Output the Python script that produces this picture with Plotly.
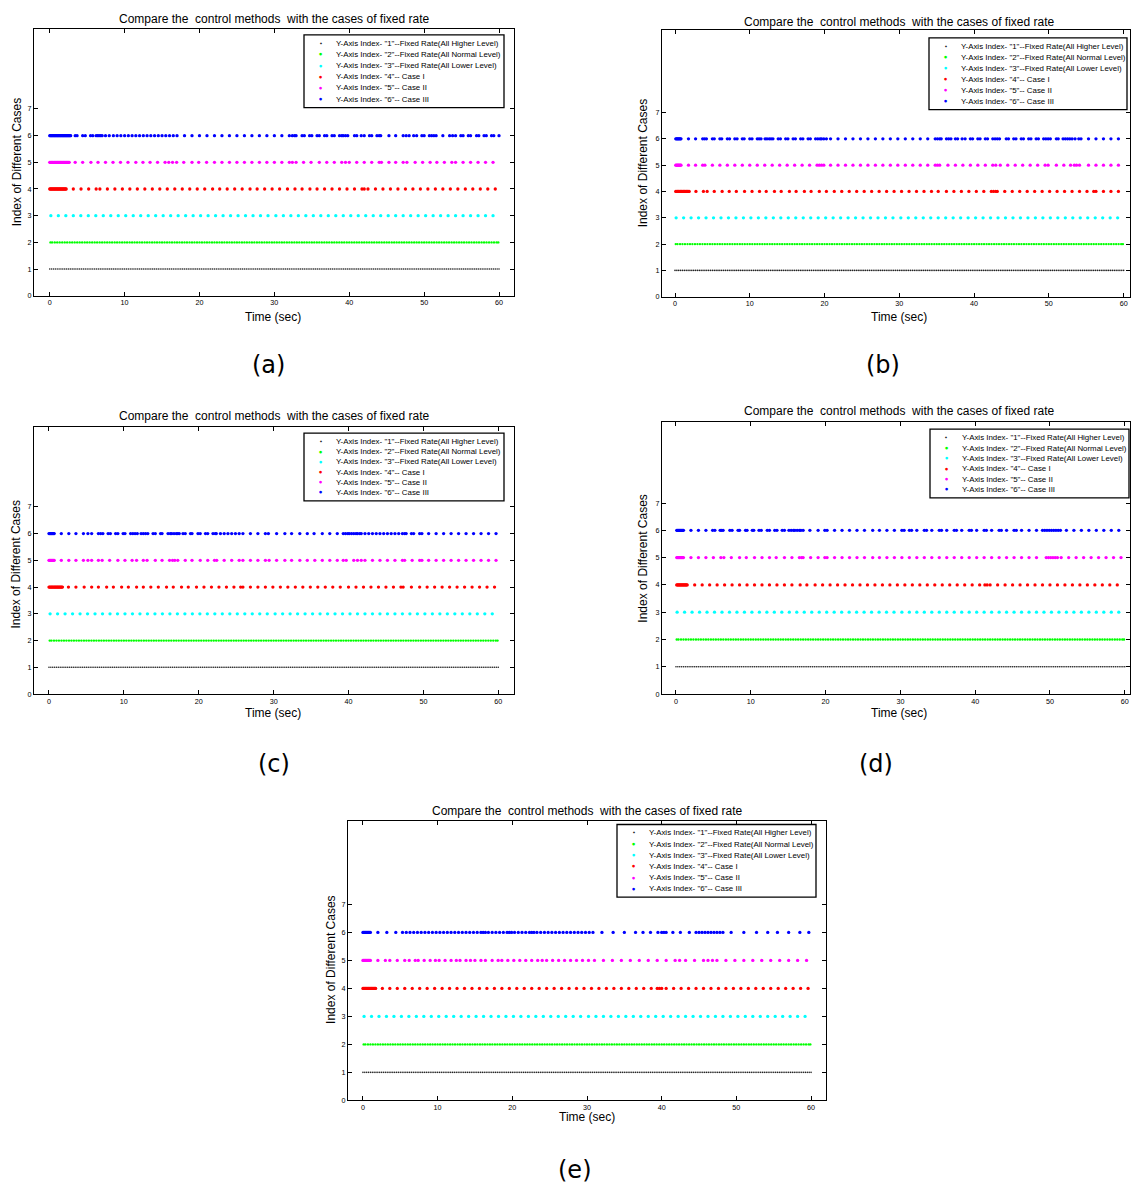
import plotly.graph_objects as go

W, H = 1132, 1188

# ---------------- text ----------------
TITLE_TEXT = "Compare the  control methods  with the cases of fixed rate"
X_LABEL = "Time (sec)"
Y_LABEL = "Index of Different Cases"
X_TICKS = [0, 10, 20, 30, 40, 50, 60]
Y_TICKS = [0, 1, 2, 3, 4, 5, 6, 7]
SERIES_INDEX = [1, 2, 3, 4, 5, 6]
LEGEND_LABELS = [
    'Y-Axis Index- "1"--Fixed Rate(All Higher Level)',
    'Y-Axis Index- "2"--Fixed Rate(All Normal Level)',
    'Y-Axis Index- "3"--Fixed Rate(All Lower Level)',
    'Y-Axis Index- "4"-- Case I',
    'Y-Axis Index- "5"-- Case II',
    'Y-Axis Index- "6"-- Case III',
]
PANEL_LABELS = ["(a)", "(b)", "(c)", "(d)", "(e)"]

# ---------------- data (event times in seconds) ----------------
fixed_higher = [
    0, 0.25, 0.5, 0.75, 1, 1.25, 1.5, 1.75, 2, 2.25, 2.5, 2.75, 3, 3.25, 3.5, 3.75, 4, 4.25, 4.5, 4.75,
    5, 5.25, 5.5, 5.75, 6, 6.25, 6.5, 6.75, 7, 7.25, 7.5, 7.75, 8, 8.25, 8.5, 8.75, 9, 9.25, 9.5, 9.75,
    10, 10.25, 10.5, 10.75, 11, 11.25, 11.5, 11.75, 12, 12.25, 12.5, 12.75, 13, 13.25, 13.5, 13.75, 14, 14.25, 14.5, 14.75,
    15, 15.25, 15.5, 15.75, 16, 16.25, 16.5, 16.75, 17, 17.25, 17.5, 17.75, 18, 18.25, 18.5, 18.75, 19, 19.25, 19.5, 19.75,
    20, 20.25, 20.5, 20.75, 21, 21.25, 21.5, 21.75, 22, 22.25, 22.5, 22.75, 23, 23.25, 23.5, 23.75, 24, 24.25, 24.5, 24.75,
    25, 25.25, 25.5, 25.75, 26, 26.25, 26.5, 26.75, 27, 27.25, 27.5, 27.75, 28, 28.25, 28.5, 28.75, 29, 29.25, 29.5, 29.75,
    30, 30.25, 30.5, 30.75, 31, 31.25, 31.5, 31.75, 32, 32.25, 32.5, 32.75, 33, 33.25, 33.5, 33.75, 34, 34.25, 34.5, 34.75,
    35, 35.25, 35.5, 35.75, 36, 36.25, 36.5, 36.75, 37, 37.25, 37.5, 37.75, 38, 38.25, 38.5, 38.75, 39, 39.25, 39.5, 39.75,
    40, 40.25, 40.5, 40.75, 41, 41.25, 41.5, 41.75, 42, 42.25, 42.5, 42.75, 43, 43.25, 43.5, 43.75, 44, 44.25, 44.5, 44.75,
    45, 45.25, 45.5, 45.75, 46, 46.25, 46.5, 46.75, 47, 47.25, 47.5, 47.75, 48, 48.25, 48.5, 48.75, 49, 49.25, 49.5, 49.75,
    50, 50.25, 50.5, 50.75, 51, 51.25, 51.5, 51.75, 52, 52.25, 52.5, 52.75, 53, 53.25, 53.5, 53.75, 54, 54.25, 54.5, 54.75,
    55, 55.25, 55.5, 55.75, 56, 56.25, 56.5, 56.75, 57, 57.25, 57.5, 57.75, 58, 58.25, 58.5, 58.75, 59, 59.25, 59.5, 59.75,
    60,
]
fixed_normal = [
    0.1, 0.33, 0.67, 1, 1.33, 1.67, 2, 2.33, 2.67, 3, 3.33, 3.67, 4, 4.33, 4.67,
    5, 5.33, 5.67, 6, 6.33, 6.67, 7, 7.33, 7.67, 8, 8.33, 8.67, 9, 9.33, 9.67,
    10, 10.33, 10.67, 11, 11.33, 11.67, 12, 12.33, 12.67, 13, 13.33, 13.67, 14, 14.33, 14.67,
    15, 15.33, 15.67, 16, 16.33, 16.67, 17, 17.33, 17.67, 18, 18.33, 18.67, 19, 19.33, 19.67,
    20, 20.33, 20.67, 21, 21.33, 21.67, 22, 22.33, 22.67, 23, 23.33, 23.67, 24, 24.33, 24.67,
    25, 25.33, 25.67, 26, 26.33, 26.67, 27, 27.33, 27.67, 28, 28.33, 28.67, 29, 29.33, 29.67,
    30, 30.33, 30.67, 31, 31.33, 31.67, 32, 32.33, 32.67, 33, 33.33, 33.67, 34, 34.33, 34.67,
    35, 35.33, 35.67, 36, 36.33, 36.67, 37, 37.33, 37.67, 38, 38.33, 38.67, 39, 39.33, 39.67,
    40, 40.33, 40.67, 41, 41.33, 41.67, 42, 42.33, 42.67, 43, 43.33, 43.67, 44, 44.33, 44.67,
    45, 45.33, 45.67, 46, 46.33, 46.67, 47, 47.33, 47.67, 48, 48.33, 48.67, 49, 49.33, 49.67,
    50, 50.33, 50.67, 51, 51.33, 51.67, 52, 52.33, 52.67, 53, 53.33, 53.67, 54, 54.33, 54.67,
    55, 55.33, 55.67, 56, 56.33, 56.67, 57, 57.33, 57.67, 58, 58.33, 58.67, 59, 59.33, 59.67,
    59.9,
]
fixed_lower = [
    0.15, 1.15, 2.15, 3.15, 4.15, 5.15, 6.15, 7.15, 8.15, 9.15, 10.15, 11.15, 12.15, 13.15, 14.15,
    15.15, 16.15, 17.15, 18.15, 19.15, 20.15, 21.15, 22.15, 23.15, 24.15, 25.15, 26.15, 27.15, 28.15, 29.15,
    30.2, 31.2, 32.2, 33.2, 34.2, 35.2, 36.2, 37.2, 38.2, 39.2, 40.2, 41.2, 42.2, 43.2, 44.2,
    45.2, 46.2, 47.2, 48.2, 49.2, 50.2, 51.2, 52.2, 53.2, 54.2, 55.2, 56.2, 57.2, 58.2, 59.2,
]

# ----- panel (a)
a_case1 = [
    0, 0.1, 0.2, 0.3, 0.4, 0.5, 0.6, 0.7, 0.8, 0.9, 1.0, 1.1, 1.2, 1.3, 1.4, 1.5, 1.6, 1.7, 1.8, 1.9, 2.0, 2.1, 2.2,
    3.15, 4.18, 5.2, 6.2, 6.7, 7.7, 8.7, 9.7, 10.7, 11.7, 12.7, 13.7, 14.7, 15.7, 16.7, 17.7, 18.7, 19.7, 20.7,
    21.75, 22.7, 23.7, 24.7, 25.7, 26.75, 27.7, 28.7, 29.7, 30.7, 31.75, 32.75, 33.7, 34.75, 35.7, 36.7, 37.7,
    38.7, 39.7, 40.7, 41.7, 42.0, 42.5, 43.5, 44.5, 45.5, 46.5, 47.5, 48.5, 49.5, 50.5, 51.5, 52.5, 53.5, 54.5,
    55.5, 56.5, 57.5, 58.5, 59.5,
]
a_case2 = [
    0, 0.1, 0.2, 0.3, 0.4, 0.5, 0.6, 0.7, 0.8, 0.9, 1.0, 1.1, 1.2, 1.3, 1.4, 1.5, 1.6, 1.7, 1.8, 1.9, 2.0, 2.1,
    2.2, 2.3, 2.4, 2.5, 2.6,
    3.4, 4.4, 5.5, 6.45, 7.45, 8.45, 9.45, 10.45, 11.5, 12.45, 13.4, 14.4, 15.4, 15.9, 16.4, 16.95, 17.9, 19.0,
    19.9, 20.95, 22.0, 23.0, 24.0, 25.0, 26.0, 27.0, 28.0, 29.0, 30.0, 31.0, 32.0, 32.4, 32.9, 33.9, 34.9, 36.0,
    37.0, 38.0, 39.0, 39.5, 40.0, 41.0, 42.0, 43.0, 44.0, 44.3, 45.3, 46.2, 47.2, 47.7, 48.8, 49.8, 50.8, 51.7,
    52.7, 53.7, 54.2, 55.2, 56.2, 57.2, 58.2, 59.2,
]
a_case3 = [
    0, 0.1, 0.2, 0.3, 0.4, 0.5, 0.6, 0.7, 0.8, 0.9, 1.0, 1.1, 1.2, 1.3, 1.4, 1.5, 1.6, 1.7, 1.8, 1.9, 2.0, 2.1,
    2.2, 2.3, 2.4, 2.5, 2.6, 2.7, 2.8,
    3.4, 3.65, 4.4, 4.75, 5.45, 5.75, 6.2, 6.4, 6.6, 6.8, 7.0, 7.45, 7.95, 8.5, 9.0, 9.5, 10.0, 10.5, 11.0,
    11.5, 12.0, 12.5, 13.0, 13.5, 14.0, 14.5, 15.0, 15.5, 16.0, 16.5, 17.0, 18.0, 19.0, 20.0, 21.0, 22.0,
    23.0, 24.0, 25.0, 26.0, 27.0, 28.0, 29.0, 30.0, 31.0, 32.0, 32.4, 32.7, 32.9, 33.7, 34.0, 34.7, 35.0,
    35.7, 36.0, 36.7, 37.0, 37.7, 38.0, 38.7, 39.0, 39.2, 39.5, 39.8, 40.7, 41.0, 41.6, 42.0, 42.7, 43.0,
    43.7, 44.0, 44.2, 45.3, 46.2, 47.2, 47.6, 48.0, 48.6, 49.0, 49.7, 50.0, 50.7, 51.0, 51.3, 51.6, 52.5,
    53.4, 53.8, 54.2, 54.9, 55.2, 55.9, 56.2, 57.0, 57.3, 58.0, 58.3, 59.0, 59.3, 60.0,
]

# ----- panel (b)
b_case1 = [
    0.1, 0.2, 0.3, 0.4, 0.5, 0.6, 0.7, 0.8, 0.9, 1.0, 1.1, 1.2, 1.3, 1.4, 1.5, 1.6, 1.7, 1.8, 1.9,
    2.8, 3.8, 4.3, 5.25, 6.3, 7.25, 8.2, 9.3, 10.3, 11.3, 12.2, 13.3, 14.2, 15.3, 16.2, 17.3, 18.2, 19.3,
    20.25, 21.3, 22.3, 23.3, 24.3, 25.3, 26.3, 27.3, 28.3, 29.3, 30.3, 31.3, 32.3, 33.3, 34.3, 35.2, 36.3,
    37.3, 38.3, 39.3, 40.3, 41.3, 42.3, 42.6, 42.9, 43.1, 44.1, 45.1, 46.1, 47.1, 48.1, 49.1, 50.1, 51.1,
    52.1, 53.1, 54.1, 55.1, 56.0, 56.3, 57.3, 58.3, 59.3,
]
b_case2 = [
    0.1, 0.2, 0.3, 0.4, 0.5, 0.6, 0.7, 0.8,
    1.8, 2.75, 3.7, 4.0, 5.0, 6.0, 7.0, 8.0, 9.0, 10.0, 11.0, 12.0, 13.0, 14.0, 15.0, 16.0, 17.0, 18.0,
    19.0, 19.3, 19.6, 19.9, 20.8, 21.8, 22.8, 23.8, 24.8, 25.8, 26.8, 27.8, 28.8, 29.8, 30.8, 31.8, 32.8,
    33.8, 34.8, 35.1, 35.4, 36.5, 37.5, 38.5, 39.5, 40.5, 41.5, 42.5, 42.9, 43.5, 44.5, 45.5, 46.5, 47.5,
    48.5, 49.5, 49.9, 51.0, 52.0, 52.9, 53.4, 53.7, 54.1, 55.3, 56.3, 57.3, 58.3, 59.3,
]
b_case3 = [
    0.1, 0.2, 0.3, 0.4, 0.5, 0.6, 0.7, 0.8,
    1.8, 2.75, 3.7, 3.95, 4.2, 5.0, 5.25, 6.0, 6.25, 7.0, 7.3, 8.0, 8.3, 9.0, 9.25, 10.0, 10.3, 11.0, 11.25,
    11.5, 12.05, 12.3, 12.6, 12.85, 13.1, 13.8, 14.1, 14.8, 15.1, 15.8, 16.1, 16.8, 17.1, 17.8, 18.1, 18.8,
    19.1, 19.4, 19.6, 19.9, 20.25, 20.8, 21.8, 22.8, 23.8, 24.8, 25.8, 26.8, 27.8, 28.8, 29.8, 30.8, 31.8,
    32.8, 33.8, 34.8, 35.1, 35.4, 35.6, 36.3, 36.6, 36.9, 37.5, 37.8, 38.4, 38.8, 39.5, 39.8, 40.5, 40.8,
    41.5, 41.8, 42.5, 42.8, 43.1, 43.4, 44.3, 44.6, 45.3, 45.6, 46.3, 46.6, 47.3, 47.6, 48.3, 48.6, 49.3,
    49.6, 49.9, 50.2, 51.0, 51.25, 51.9, 52.2, 52.5, 52.8, 53.1, 53.5, 54.0, 54.3, 55.3, 56.3, 57.3, 58.3, 59.3,
]

# ----- panel (c)
c_case1 = [
    0, 0.1, 0.2, 0.3, 0.4, 0.5, 0.6, 0.7, 0.8, 0.9, 1.0, 1.1, 1.2, 1.3, 1.4, 1.5, 1.6, 1.7, 1.8,
    2.6, 3.6, 4.7, 5.7, 6.6, 7.7, 8.6, 9.7, 10.6, 11.7, 12.6, 13.6, 14.6, 15.7, 16.6, 17.7, 18.6, 19.7,
    20.7, 21.7, 22.7, 23.7, 24.7, 25.6, 25.9, 26.9, 27.9, 28.9, 29.9, 30.9, 31.9, 32.9, 33.9, 34.9, 35.9,
    36.9, 37.9, 38.9, 40.0, 41.0, 42.0, 43.0, 44.0, 45.0, 46.0, 47.0, 47.3, 48.4, 49.5, 50.5, 51.5, 52.5,
    53.5, 54.5, 55.5, 56.5, 57.5, 58.5, 59.5,
]
c_case2 = [
    0, 0.1, 0.2, 0.3, 0.4, 0.5, 0.6, 0.7,
    1.65, 2.65, 3.6, 4.6, 5.2, 5.7, 6.6, 7.1, 8.1, 9.2, 10.15, 11.1, 11.7, 12.6, 13.1, 14.2, 15.1, 16.1,
    16.5, 16.8, 17.2, 18.2, 19.1, 20.2, 21.2, 22.1, 22.4, 23.4, 24.4, 25.4, 25.9, 26.9, 27.9, 28.9, 29.4,
    30.4, 31.5, 32.4, 33.5, 34.5, 35.5, 36.5, 37.5, 38.5, 39.3, 39.7, 40.7, 41.2, 41.7, 42.2, 43.2, 44.2,
    45.2, 46.2, 47.2, 47.5, 48.5, 49.5, 49.8, 50.7, 51.7, 52.7, 53.7, 54.7, 55.7, 56.7, 57.7, 58.7, 59.7,
]
c_case3 = [
    0, 0.1, 0.2, 0.3, 0.4, 0.5, 0.6, 0.7,
    1.65, 2.65, 3.6, 4.6, 5.2, 5.7, 6.6, 6.9, 7.2, 7.9, 8.2, 8.9, 9.2, 9.9, 10.15, 10.9, 11.2, 11.5, 11.8,
    12.3, 12.6, 12.9, 13.2, 13.9, 14.2, 14.9, 15.1, 15.9, 16.2, 16.4, 16.7, 17.0, 17.2, 17.4, 17.9, 18.2,
    18.9, 19.1, 19.9, 20.2, 20.9, 21.2, 21.9, 22.2, 22.35, 22.9, 23.4, 23.9, 24.4, 24.9, 25.4, 25.9, 26.9,
    27.9, 28.9, 29.3, 30.4, 31.5, 32.4, 33.5, 34.5, 35.4, 36.5, 37.5, 38.5, 39.3, 39.6, 39.9, 40.1, 40.4,
    40.7, 41.0, 41.2, 41.5, 41.7, 42.2, 42.7, 43.2, 43.7, 44.2, 44.7, 45.2, 45.7, 46.2, 46.7, 47.2, 47.5,
    47.7, 48.4, 48.7, 49.5, 49.8, 50.7, 51.7, 52.7, 53.7, 54.7, 55.7, 56.7, 57.7, 58.7, 59.7,
]

# ----- panel (d)
d_case1 = [
    0.1, 0.2, 0.3, 0.4, 0.5, 0.6, 0.7, 0.8, 0.9, 1.0, 1.1, 1.2, 1.3, 1.4, 1.5,
    2.5, 3.5, 4.5, 5.5, 6.5, 7.5, 8.5, 9.5, 10.5, 11.5, 12.5, 13.5, 14.5, 15.5, 16.6, 17.5, 18.6, 19.6,
    20.6, 21.6, 22.6, 23.6, 24.6, 25.6, 26.6, 27.6, 28.6, 29.6, 30.6, 31.6, 32.6, 33.6, 34.6, 35.6, 36.6,
    37.6, 38.6, 39.6, 40.6, 41.3, 41.6, 42.0, 43.0, 44.0, 45.0, 46.0, 47.0, 48.0, 49.0, 50.0, 51.0, 52.0,
    53.0, 54.0, 55.0, 56.0, 57.0, 58.0, 59.0,
]
d_case2 = [
    0.1, 0.2, 0.3, 0.4, 0.5, 0.6, 0.7, 0.8, 0.9, 1.0,
    2.0, 3.0, 4.0, 5.0, 6.0, 6.4, 7.4, 8.5, 9.4, 10.5, 11.5, 12.5, 13.4, 14.5, 15.5, 16.5, 16.8, 17.0,
    18.0, 19.0, 19.9, 20.2, 21.2, 22.2, 23.2, 24.2, 25.2, 26.3, 27.2, 28.2, 29.2, 30.2, 31.2, 32.2, 33.2,
    34.2, 35.2, 36.2, 37.2, 38.2, 39.2, 40.2, 41.2, 42.2, 43.2, 44.2, 45.2, 46.2, 47.2, 48.2, 49.5, 49.8,
    50.1, 50.4, 50.7, 51.0, 51.5, 52.5, 53.5, 54.5, 55.5, 56.5, 57.5, 58.5, 59.5,
]
d_case3 = [
    0.1, 0.2, 0.3, 0.4, 0.5, 0.6, 0.7, 0.8, 0.9, 1.0,
    2.0, 3.0, 4.0, 4.9, 5.2, 5.9, 6.1, 6.3, 7.2, 7.5, 8.3, 8.5, 9.3, 9.5, 10.2, 10.4, 11.1, 11.4, 12.2,
    12.5, 13.2, 13.5, 14.2, 14.5, 15.1, 15.4, 15.7, 15.9, 16.2, 16.5, 16.7, 17.0, 17.9, 19.0, 19.9, 20.2,
    21.2, 22.2, 23.2, 24.2, 25.2, 26.3, 27.2, 28.2, 29.2, 30.2, 30.5, 31.2, 31.5, 32.2, 33.2, 33.5, 34.2,
    35.2, 35.5, 36.2, 37.2, 37.5, 38.2, 39.2, 39.5, 40.2, 41.2, 41.5, 42.2, 43.2, 43.5, 44.2, 45.2, 45.5,
    46.2, 47.2, 48.2, 49.0, 49.3, 49.6, 49.9, 50.2, 50.5, 50.8, 51.1, 51.4, 52.2, 53.2, 54.2, 55.2, 56.2,
    57.2, 58.2, 59.2,
]

# ----- panel (e)
e_case1 = [
    0, 0.1, 0.2, 0.3, 0.4, 0.5, 0.6, 0.7, 0.8, 0.9, 1.0, 1.1, 1.2, 1.3, 1.4, 1.5, 1.6, 1.7,
    2.6, 3.6, 4.6, 5.6, 6.6, 7.6, 8.6, 9.6, 10.6, 11.6, 12.6, 13.6, 14.6, 15.6, 16.6, 17.6, 18.6, 19.6,
    20.6, 21.6, 22.6, 23.6, 24.6, 25.6, 26.6, 27.6, 28.6, 29.6, 30.6, 31.6, 32.6, 33.6, 34.6, 35.6, 36.6,
    37.6, 38.6, 39.4, 39.7, 40.0, 40.6, 41.6, 42.6, 43.6, 44.6, 45.6, 46.6, 47.6, 48.6, 49.6, 50.6, 51.6,
    52.6, 53.6, 54.6, 55.6, 56.6, 57.6, 58.6, 59.6,
]
e_case2 = [
    0, 0.1, 0.2, 0.3, 0.4, 0.5, 0.6, 0.7, 0.8, 0.9, 1.0,
    2.0, 3.0, 3.6, 4.6, 5.6, 6.2, 7.0, 7.4, 8.2, 9.0, 9.7, 10.2, 11.0, 11.8, 12.5, 13.0, 13.8, 14.4, 15.0,
    15.8, 16.4, 17.3, 18.1, 18.6, 19.4, 20.2, 21.0, 21.8, 22.6, 23.4, 24.0, 24.6, 25.4, 26.2, 27.0, 27.8,
    28.6, 29.4, 30.2, 31.0, 32.2, 33.4, 34.6, 35.8, 37.0, 38.2, 39.4, 40.6, 41.8, 42.4, 43.2, 44.4, 45.6,
    46.2, 46.8, 47.4, 48.6, 49.8, 51.0, 52.2, 53.4, 54.6, 55.8, 57.0, 58.2, 59.4,
]
e_case3 = [
    0, 0.1, 0.2, 0.3, 0.4, 0.5, 0.6, 0.7, 0.8, 0.9, 1.0,
    2.0, 3.2, 4.4, 5.3, 5.8, 6.3, 6.8, 7.3, 7.8, 8.3, 8.8, 9.3, 9.8, 10.3, 10.8, 11.3, 11.8, 12.3, 12.8,
    13.3, 13.8, 14.3, 14.8, 15.3, 15.8, 16.1, 16.4, 16.8, 17.3, 17.8, 18.3, 18.8, 19.3, 19.6, 19.9, 20.3,
    20.8, 21.3, 21.8, 22.3, 22.6, 22.9, 23.3, 23.8, 24.3, 24.8, 25.3, 25.8, 26.3, 26.8, 27.3, 27.8, 28.3,
    28.8, 29.3, 29.8, 30.3, 30.8, 32.0, 33.5, 35.0, 36.5, 37.5, 38.5, 39.5, 40.0, 40.3, 40.6, 41.5, 42.5,
    43.7, 44.6, 45.0, 45.4, 45.8, 46.2, 46.6, 47.0, 47.4, 47.8, 48.2, 49.3, 51.0, 52.7, 54.2, 55.5, 57.0,
    58.5, 59.7,
]

PANEL_SERIES = [
    [fixed_higher, fixed_normal, fixed_lower, a_case1, a_case2, a_case3],
    [fixed_higher, fixed_normal, fixed_lower, b_case1, b_case2, b_case3],
    [fixed_higher, fixed_normal, fixed_lower, c_case1, c_case2, c_case3],
    [fixed_higher, fixed_normal, fixed_lower, d_case1, d_case2, d_case3],
    [fixed_higher, fixed_normal, fixed_lower, e_case1, e_case2, e_case3],
]

# ---------------- style / layout ----------------
COLORS = ["#222222", "#00ff00", "#00ffff", "#ff0000", "#ff00ff", "#0000ff"]
SIZES = [1.6, 2.4, 3.3, 3.3, 3.3, 3.3]
LEG_DOT_SIZE = [5, 8, 8, 8, 8, 8]
FONT = "Liberation Sans, Arial, sans-serif"

# pixel geometry of each panel
GEOM = [
    dict(L=34, R=514, T=29, B=297, xr=[-2.1, 62.0], yr=[0, 10.0],
         title=(274, 19), xlab=(273, 318), ylab=(17, 163), tag=(268, 367), leg=(304, 504, 35, 108)),
    dict(L=662, R=1130, T=30, B=298, xr=[-1.74, 60.85], yr=[0, 10.14],
         title=(899, 22), xlab=(899, 318), ylab=(643, 164), tag=(883, 367), leg=(929, 1127, 38, 110)),
    dict(L=34, R=514, T=429, B=697, xr=[-2.0, 62.1], yr=[0, 9.98],
         title=(274, 418), xlab=(273, 716), ylab=(16, 567), tag=(274, 767), leg=(304, 504, 435, 503)),
    dict(L=662, R=1130, T=424, B=697, xr=[-1.87, 60.7], yr=[0, 9.96],
         title=(899, 413), xlab=(899, 716), ylab=(643, 561), tag=(876, 767), leg=(930, 1129, 431, 500)),
    dict(L=348, R=826, T=824, B=1105, xr=[-2.0, 62.0], yr=[0, 10.0],
         title=(587, 814), xlab=(587, 1122), ylab=(331, 964), tag=(575, 1175), leg=(617, 816, 828, 901)),
]


def px(x):
    return x / W


def py(y):
    return 1 - y / H


fig = go.Figure()
annotations = []
shapes = []
layout_axes = {}

for p, (g, series) in enumerate(zip(GEOM, PANEL_SERIES)):
    n = p + 1
    xa = "x" if n == 1 else f"x{n}"
    ya = "y" if n == 1 else f"y{n}"
    for k, times in enumerate(series):
        fig.add_trace(go.Scatter(
            x=times, y=[SERIES_INDEX[k]] * len(times), mode="markers",
            xaxis=xa, yaxis=ya, showlegend=False, name=LEGEND_LABELS[k],
            marker=dict(size=SIZES[k], color=COLORS[k], line=dict(width=0)),
            hoverinfo="x+y",
        ))
    axis_common = dict(showline=True, linecolor="black", linewidth=1.2, mirror="allticks",
                       ticks="inside", ticklen=4, tickwidth=1, tickcolor="black",
                       showgrid=False, zeroline=False,
                       tickfont=dict(family=FONT, size=7.2, color="black"))
    layout_axes["xaxis" if n == 1 else f"xaxis{n}"] = dict(
        domain=[px(g["L"]), px(g["R"])], range=g["xr"], tickvals=X_TICKS,
        anchor=ya, **axis_common)
    layout_axes["yaxis" if n == 1 else f"yaxis{n}"] = dict(
        domain=[py(g["B"]), py(g["T"])], range=g["yr"], tickvals=Y_TICKS,
        anchor=xa, **axis_common)

    # texts
    annotations.append(dict(text=TITLE_TEXT, x=px(g["title"][0]), y=py(g["title"][1]),
                            xref="paper", yref="paper", showarrow=False,
                            xanchor="center", yanchor="middle",
                            font=dict(family=FONT, size=12, color="black")))
    annotations.append(dict(text=X_LABEL, x=px(g["xlab"][0]), y=py(g["xlab"][1]),
                            xref="paper", yref="paper", showarrow=False,
                            xanchor="center", yanchor="middle",
                            font=dict(family=FONT, size=12, color="black")))
    annotations.append(dict(text=Y_LABEL, x=px(g["ylab"][0]), y=py(g["ylab"][1]),
                            xref="paper", yref="paper", showarrow=False, textangle=-90,
                            xanchor="center", yanchor="middle",
                            font=dict(family=FONT, size=12, color="black")))
    annotations.append(dict(text=PANEL_LABELS[p], x=px(g["tag"][0]), y=py(g["tag"][1]),
                            xref="paper", yref="paper", showarrow=False,
                            xanchor="center", yanchor="middle",
                            font=dict(family="DejaVu Sans", size=24, color="black")))

    # legend box
    l, r, t, b = g["leg"]
    shapes.append(dict(type="rect", xref="paper", yref="paper",
                       x0=px(l), x1=px(r), y0=py(b), y1=py(t),
                       line=dict(color="black", width=1.3), fillcolor="white", layer="above"))
    step = (b - t - 17) / 5.0
    for k, label in enumerate(LEGEND_LABELS):
        row = t + 8.5 + k * step
        annotations.append(dict(text="●", x=px(l + 16.5), y=py(row), xref="paper", yref="paper",
                                showarrow=False, xanchor="center", yanchor="middle",
                                font=dict(family="DejaVu Sans", size=LEG_DOT_SIZE[k] * 0.45,
                                          color=COLORS[k])))
        annotations.append(dict(text=label, x=px(l + 30), y=py(row), xref="paper", yref="paper",
                                showarrow=False, xanchor="left", yanchor="middle",
                                font=dict(family=FONT, size=7.9, color="black")))

fig.update_layout(
    width=W, height=H, margin=dict(l=0, r=0, t=0, b=0),
    paper_bgcolor="white", plot_bgcolor="white",
    annotations=annotations, shapes=shapes, showlegend=False,
    **layout_axes,
)

fig.write_html(
    "out.html",
    config={"displayModeBar": False},
    post_script="document.body.style.margin='0px'; document.body.style.overflow='hidden';",
)
